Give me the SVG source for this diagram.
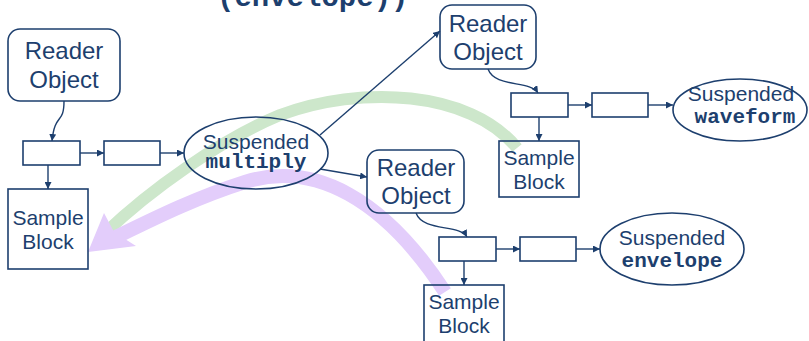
<svg xmlns="http://www.w3.org/2000/svg" width="809" height="341" viewBox="0 0 809 341">
<defs>
<style>
.n{fill:none;stroke:#1d3f6e;stroke-width:1.6}
.t{font-family:"Liberation Sans",Arial,sans-serif;fill:#1d3f6e;text-anchor:middle}
.r{font-size:24px}
.s{font-size:21px}
.m{font-family:"Liberation Mono","Courier New",monospace;font-weight:bold;font-size:21px;fill:#1d3f6e;text-anchor:middle}
.c{fill:none;stroke:#1d3f6e;stroke-width:1.4}
.a{marker-end:url(#ah)}
</style>
<marker id="ah" viewBox="0 0 10 10" refX="10" refY="5" markerWidth="7" markerHeight="7" markerUnits="userSpaceOnUse" orient="auto">
<path d="M0,0 L10,5 L0,10 z" fill="#1d3f6e"/>
</marker>
</defs>
<rect width="809" height="341" fill="#ffffff"/>
<text x="217" y="6" font-family="Liberation Mono,Courier New,monospace" font-weight="bold" font-size="29" fill="#1d3f6e">(envelope))</text>
<g id="bands">
<path d="M517,148 C470,90 360,85 280,115 C220,140 150,190 104,234" fill="none" stroke="#cde7cb" stroke-width="12"/>
<path d="M445,292 C385,200 315,160 245,182 C195,198 155,218 114,238" fill="none" stroke="#e3cdfb" stroke-width="14"/>
<polygon points="88,252 104,213 114,232 136,246" fill="#e3cdfb"/>
</g>
<g id="connectors">
<path class="c a" d="M64,101 C64,125 55,112 52,141"/>
<path class="c a" d="M80,153 L104,153"/>
<path class="c a" d="M160,153 L184,153"/>
<path class="c a" d="M48,165 L48,189"/>
<path class="c a" d="M320,135 L440,31"/>
<path class="c a" d="M320,169 L367,177"/>
<path class="c a" d="M488,69 C495,88 530,80 538,93"/>
<path class="c a" d="M568,105 L592,105"/>
<path class="c a" d="M648,105 L673,105"/>
<path class="c a" d="M539,117 L539,141"/>
<path class="c a" d="M416,213 C423,232 460,224 467,237"/>
<path class="c a" d="M496,249 L520,249"/>
<path class="c a" d="M576,249 L600,249"/>
<path class="c a" d="M464,261 L464,285"/>
</g>
<g id="reader1"><rect class="n" x="8" y="29" width="112" height="72" rx="12"/><text class="t r" x="64" y="59">Reader</text><text class="t r" x="64" y="88">Object</text></g>
<g id="buf1"><rect class="n" x="23" y="141" width="57" height="24"/></g>
<g id="buf2"><rect class="n" x="104" y="141" width="56" height="24"/></g>
<g id="sample1"><rect class="n" x="8" y="189" width="80" height="80"/><text class="t s" x="48" y="225">Sample</text><text class="t s" x="48" y="249">Block</text></g>
<g id="multiply"><ellipse class="n" cx="256" cy="153" rx="72" ry="36"/><text class="t s" x="256" y="149">Suspended</text><text class="m" x="256" y="168">multiply</text></g>
<g id="reader2"><rect class="n" x="440" y="5" width="96" height="64" rx="12"/><text class="t r" x="488" y="32">Reader</text><text class="t r" x="488" y="60">Object</text></g>
<g id="buf3"><rect class="n" x="511" y="93" width="57" height="24"/></g>
<g id="buf4"><rect class="n" x="592" y="93" width="56" height="24"/></g>
<g id="waveform"><ellipse class="n" cx="740" cy="110" rx="67" ry="31"/><text class="t s" x="741" y="101">Suspended</text><text class="m" x="745" y="123">waveform</text></g>
<g id="sample2"><rect class="n" x="499" y="141" width="80" height="56"/><text class="t s" x="539" y="165">Sample</text><text class="t s" x="539" y="189">Block</text></g>
<g id="reader3"><rect class="n" x="367" y="150" width="97" height="63" rx="12"/><text class="t r" x="416" y="176">Reader</text><text class="t r" x="416" y="204">Object</text></g>
<g id="buf5"><rect class="n" x="439" y="237" width="57" height="24"/></g>
<g id="buf6"><rect class="n" x="520" y="237" width="56" height="24"/></g>
<g id="envelope"><ellipse class="n" cx="672" cy="249" rx="72" ry="36"/><text class="t s" x="672" y="245">Suspended</text><text class="m" x="672" y="267">envelope</text></g>
<g id="sample3"><rect class="n" x="424" y="285" width="80" height="60"/><text class="t s" x="464" y="309">Sample</text><text class="t s" x="464" y="333">Block</text></g>
</svg>
